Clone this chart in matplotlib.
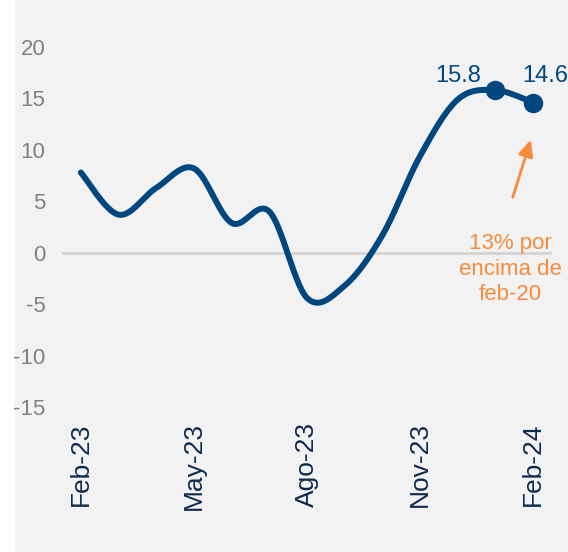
import numpy as np
import matplotlib
matplotlib.use('Agg')
import matplotlib.pyplot as plt
from matplotlib.patches import Rectangle

# datos (variación anual, %)
meses = ['Feb-23', 'Mar-23', 'Abr-23', 'May-23', 'Jun-23', 'Jul-23', 'Ago-23',
         'Sep-23', 'Oct-23', 'Nov-23', 'Dic-23', 'Ene-24', 'Feb-24']
valores = [7.8, 3.7, 6.3, 8.2, 2.9, 4.0, -4.4, -3.2, 1.7, 9.4, 14.9, 15.8, 14.6]
etiquetas_x = ['Feb-23', 'May-23', 'Ago-23', 'Nov-23', 'Feb-24']
yticks = [-15, -10, -5, 0, 5, 10, 15, 20]

AZUL = '#00467F'
NARANJA = '#F68B3C'


def suavizar(x, y, n=40):
    """Curva suavizada tipo Excel (Catmull-Rom / Bezier)."""
    x = np.asarray(x, float)
    y = np.asarray(y, float)
    px = np.concatenate([[x[0]], x, [x[-1]]])
    py = np.concatenate([[y[0]], y, [y[-1]]])
    xs, ys = [], []
    t = np.linspace(0, 1, n)
    for i in range(1, len(px) - 2):
        p0 = np.array([px[i], py[i]])
        p3 = np.array([px[i + 1], py[i + 1]])
        c1 = p0 + (np.array([px[i + 1], py[i + 1]]) - np.array([px[i - 1], py[i - 1]])) / 6
        c2 = p3 - (np.array([px[i + 2], py[i + 2]]) - np.array([px[i], py[i]])) / 6
        b = (np.outer((1 - t) ** 3, p0) + np.outer(3 * (1 - t) ** 2 * t, c1)
             + np.outer(3 * (1 - t) * t ** 2, c2) + np.outer(t ** 3, p3))
        xs.extend(b[:, 0])
        ys.extend(b[:, 1])
    return np.array(xs), np.array(ys)


plt.rcParams['font.family'] = ['Liberation Sans', 'DejaVu Sans']

fig = plt.figure(figsize=(5.68, 5.52), dpi=100)
fig.patches.append(Rectangle((15 / 568, 0), 1, 1, transform=fig.transFigure,
                             facecolor='#F2F2F2', edgecolor='none', zorder=-10))

ax = fig.add_axes([62 / 568, 1 - 407 / 552, 490 / 568, 360 / 552])
ax.set_facecolor('none')
ax.set_zorder(1)

idx = np.arange(len(meses))
xs, ys = suavizar(idx, valores)
ax.axhline(0, color='#D3D3D3', lw=2, zorder=1)
ax.plot(xs, ys, color=AZUL, lw=4.3, solid_capstyle='round', zorder=3)
ax.plot(idx[-2:], valores[-2:], 'o', color=AZUL, ms=13, zorder=4)

ax.annotate('{:.1f}'.format(valores[-2]), (idx[-2], valores[-2]), xytext=(-27, 10),
            textcoords='offset points', ha='center', va='center', color=AZUL, fontsize=17)
ax.annotate('{:.1f}'.format(valores[-1]), (idx[-1], valores[-1]), xytext=(8.5, 19),
            textcoords='offset points', ha='center', va='center', color=AZUL, fontsize=17)

ax.annotate('', xy=(11.94, 11.0), xytext=(11.46, 5.4),
            arrowprops=dict(arrowstyle='-|>,head_width=0.45,head_length=1.0',
                            color=NARANJA, lw=2, shrinkA=0, shrinkB=0))
ax.text(11.4, -1.6, '13% por\nencima de\nfeb-20', ha='center', va='center',
        color=NARANJA, fontsize=16, linespacing=1.3)

ax.set_xlim(-0.5, 12.5)
ax.set_ylim(-15, 20)
ax.set_yticks(yticks)
ax.set_yticklabels([str(v) for v in yticks], color='#808080', fontsize=16)
ax.set_xticks([meses.index(m) for m in etiquetas_x])
ax.set_xticklabels(etiquetas_x, rotation=90, color='#102A4C', fontsize=19)
ax.tick_params(axis='both', length=0)
ax.tick_params(axis='x', pad=11)
ax.tick_params(axis='y', pad=12)
for s in ax.spines.values():
    s.set_visible(False)

fig.savefig('out.png', dpi=100)
